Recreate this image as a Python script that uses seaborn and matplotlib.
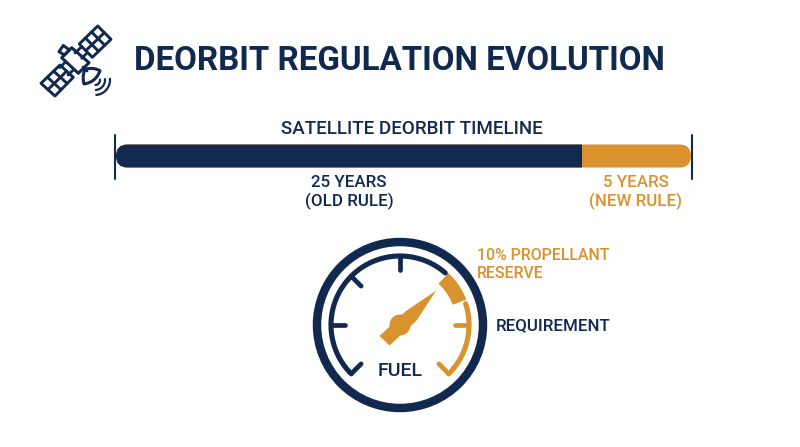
import numpy as np
import pandas as pd
import matplotlib
matplotlib.use("Agg")
import matplotlib.pyplot as plt
import seaborn as sns
from matplotlib.patches import Circle, FancyBboxPatch, Polygon

NAVY = "#12294f"
ORANGE = "#d9922e"

# timeline data, shares of the bar as drawn in the picture
rule_names = ["25 YEARS\n(OLD RULE)", "5 YEARS\n(NEW RULE)"]
rule_shares = [81, 19]
rule_colors = [NAVY, ORANGE]

# gauge tick marks, degrees
navy_ticks = [225, 180, 135, 90]
orange_ticks = [0, -45]

sns.set_theme(style="white")
plt.rcParams["font.family"] = ["Roboto", "DejaVu Sans"]

fig = plt.figure(figsize=(8, 4.47), dpi=100)
ax = fig.add_axes([0, 0, 1, 1])
ax.set_xlim(0, 800)
ax.set_ylim(447, 0)
ax.axis("off")


def polar(r, deg, cx=400, cy=325):
    a = np.radians(deg)
    return cx + r * np.cos(a), cy - r * np.sin(a)


def arc(r, start, end, color, lw):
    angles = np.linspace(start, end, 120)
    x, y = polar(r, angles)
    ax.plot(x, y, color=color, lw=lw, solid_capstyle="round")


def line(p, q, lw=2.0, color=NAVY):
    ax.plot([p[0], q[0]], [p[1], q[1]], color=color, lw=lw, solid_capstyle="round", solid_joinstyle="round")


def outline(points, lw=2.2):
    ax.add_patch(Polygon(points, closed=True, fill=False, ec=NAVY, lw=lw, joinstyle="round"))


def panel(a, b, c, d, nu=3, nv=2, lw=2.1):
    a, b, c, d = map(np.array, (a, b, c, d))
    outline([a, b, c, d], lw)
    for i in range(1, nu):
        t = i / nu
        line(a + (b - a) * t, d + (c - d) * t, lw)
    for i in range(1, nv):
        t = i / nv
        line(a + (d - a) * t, b + (c - b) * t, lw)


def curve(p, ctrl, q):
    t = np.linspace(0, 1, 30)[:, None]
    p, ctrl, q = map(np.array, (p, ctrl, q))
    return (1 - t) ** 2 * p + 2 * (1 - t) * t * ctrl + t ** 2 * q


# satellite icon
panel((97.7, 26), (79.3, 44), (92.3, 57.3), (111, 39.3))
panel((60, 65), (41, 83.3), (55, 96), (73.3, 77.3))
outline([(61.7, 57.7), (71.7, 47.7), (89, 62.7), (78.3, 73.3)])
outline([(59, 51.7), (63.3, 45.5), (69.5, 50), (64.5, 55)])
line((75, 53), (81.7, 46.7))
line((81.7, 58.3), (86.7, 53.3))
line((65.7, 61.7), (60, 67.5))
line((73.3, 70), (68, 75))
line((83, 67), (87, 71))
dish = np.vstack([curve((85, 69.3), (93, 67), (100, 70.7)),
                  curve((100, 70.7), (96, 82), (84, 84)),
                  curve((84, 84), (82, 76), (85, 69.3))])
outline(dish)
for r in (5, 10, 15):
    x, y = polar(r, np.linspace(-85, 5, 30), cx=95, cy=80)
    ax.plot(x, y, color=NAVY, lw=1.6, solid_capstyle="round")

# title
ax.text(134, 61.5, "DEORBIT REGULATION EVOLUTION", color=NAVY, fontsize=23.9, fontweight="bold", va="center", ha="left")

# timeline
ax.text(411.5, 128.5, "SATELLITE DEORBIT TIMELINE", color=NAVY, fontsize=13.5, fontweight="medium", ha="center", va="center")
line((115, 135), (115, 179), 1.5)
line((692, 135), (692, 179), 1.5)
rounded = FancyBboxPatch((116, 144.5), 575, 23, boxstyle="round,pad=0,rounding_size=11.5", fc="none", ec="none")
ax.add_patch(rounded)

bar_ax = fig.add_axes([116 / 800, 1 - 168 / 447, 575 / 800, 24 / 447])
bar_ax.patch.set_alpha(0)
ends = np.cumsum(rule_shares)
# longest first, so each shorter segment sits over it
for end, color in sorted(zip(ends, rule_colors), reverse=True):
    sns.barplot(x=[end], y=["timeline"], color=color, width=1, saturation=1, linewidth=0, ax=bar_ax)
bar_ax.set_xlim(0, 100)
bar_ax.set_ylim(0.5, -0.5)
bar_ax.axis("off")
for bar in bar_ax.patches:
    bar.set_clip_path(rounded)

ax.text(349, 192.5, rule_names[0], color=NAVY, fontsize=12.2, fontweight="medium", ha="center", va="center", linespacing=1.17)
ax.text(636, 192.5, rule_names[1], color=ORANGE, fontsize=12.2, fontweight="medium", ha="center", va="center", linespacing=1.17)

# gauge
ax.add_patch(Circle((400, 325), 83, fill=False, ec=NAVY, lw=6.1))
arc(69, 225, 49, NAVY, 3.7)
arc(69, 18, -45, ORANGE, 3.7)
for deg in navy_ticks:
    line(polar(68, deg), polar(55, deg), 3.4)
for deg in orange_ticks:
    line(polar(68, deg), polar(55, deg), 3.4, ORANGE)

wedge_angles = np.linspace(47, 21, 30)
wedge_outer = np.column_stack(polar(71, wedge_angles))
wedge_inner = np.column_stack(polar(56.5, wedge_angles[::-1]))
ax.add_patch(Polygon(np.vstack([wedge_outer, wedge_inner]), closed=True, fc=ORANGE, ec="none"))

ax.add_patch(Polygon([(436, 290.7), (417, 320), (389.5, 345.5), (379.5, 336), (406, 311)], closed=True, fc=ORANGE, ec="none"))
ax.add_patch(Circle((400, 325), 10.5, fc=ORANGE, ec="none"))

ax.text(400, 370.5, "FUEL", color=NAVY, fontsize=14, fontweight="medium", ha="center", va="center")
ax.text(477, 256, "10% PROPELLANT", color=ORANGE, fontsize=11.4, fontweight="medium", ha="left", va="center")
ax.text(477, 273, "RESERVE", color=ORANGE, fontsize=11.4, fontweight="medium", ha="left", va="center")
ax.text(496, 326, "REQUIREMENT", color=NAVY, fontsize=12.2, fontweight="medium", ha="left", va="center")

fig.savefig("out.png", dpi=100, facecolor="white")
plt.close(fig)
